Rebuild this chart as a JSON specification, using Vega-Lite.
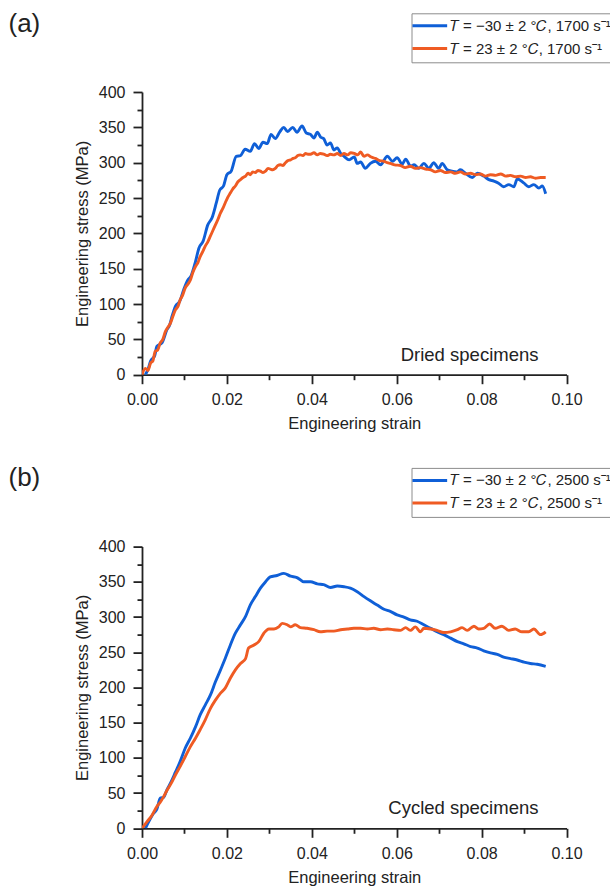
{
  "$schema": "https://vega.github.io/schema/vega-lite/v6.json",
  "padding": {"left": 8, "top": 10, "right": 0, "bottom": 0},
  "bounds": "flush",
  "spacing": 171.6,
  "datasets": {
    "dried": [
      {"T": "-30", "strain": 0.0008, "stress": 0}, {"T": "-30", "strain": 0.0015, "stress": 9}, {"T": "-30", "strain": 0.002, "stress": 19},
      {"T": "-30", "strain": 0.003, "stress": 27}, {"T": "-30", "strain": 0.0035, "stress": 40}, {"T": "-30", "strain": 0.0047, "stress": 45},
      {"T": "-30", "strain": 0.0059, "stress": 64}, {"T": "-30", "strain": 0.0065, "stress": 70}, {"T": "-30", "strain": 0.0071, "stress": 83},
      {"T": "-30", "strain": 0.0079, "stress": 97}, {"T": "-30", "strain": 0.0089, "stress": 104}, {"T": "-30", "strain": 0.0098, "stress": 120},
      {"T": "-30", "strain": 0.0108, "stress": 134}, {"T": "-30", "strain": 0.0115, "stress": 139}, {"T": "-30", "strain": 0.0126, "stress": 160},
      {"T": "-30", "strain": 0.0134, "stress": 179}, {"T": "-30", "strain": 0.0144, "stress": 189}, {"T": "-30", "strain": 0.0155, "stress": 212},
      {"T": "-30", "strain": 0.0165, "stress": 222}, {"T": "-30", "strain": 0.0175, "stress": 243}, {"T": "-30", "strain": 0.0183, "stress": 261},
      {"T": "-30", "strain": 0.0192, "stress": 267}, {"T": "-30", "strain": 0.02, "stress": 283}, {"T": "-30", "strain": 0.021, "stress": 288},
      {"T": "-30", "strain": 0.0222, "stress": 309}, {"T": "-30", "strain": 0.0232, "stress": 310}, {"T": "-30", "strain": 0.0243, "stress": 319},
      {"T": "-30", "strain": 0.0255, "stress": 316}, {"T": "-30", "strain": 0.0265, "stress": 327}, {"T": "-30", "strain": 0.0275, "stress": 320},
      {"T": "-30", "strain": 0.0285, "stress": 329}, {"T": "-30", "strain": 0.0295, "stress": 327}, {"T": "-30", "strain": 0.0304, "stress": 340},
      {"T": "-30", "strain": 0.0314, "stress": 334}, {"T": "-30", "strain": 0.0325, "stress": 344}, {"T": "-30", "strain": 0.0334, "stress": 350},
      {"T": "-30", "strain": 0.0343, "stress": 344}, {"T": "-30", "strain": 0.0355, "stress": 350}, {"T": "-30", "strain": 0.0365, "stress": 343},
      {"T": "-30", "strain": 0.0377, "stress": 352}, {"T": "-30", "strain": 0.0387, "stress": 342}, {"T": "-30", "strain": 0.0397, "stress": 340},
      {"T": "-30", "strain": 0.0405, "stress": 335}, {"T": "-30", "strain": 0.0413, "stress": 343}, {"T": "-30", "strain": 0.0421, "stress": 336},
      {"T": "-30", "strain": 0.0428, "stress": 334}, {"T": "-30", "strain": 0.0436, "stress": 325}, {"T": "-30", "strain": 0.0444, "stress": 328},
      {"T": "-30", "strain": 0.0452, "stress": 318}, {"T": "-30", "strain": 0.046, "stress": 321}, {"T": "-30", "strain": 0.0468, "stress": 313},
      {"T": "-30", "strain": 0.0476, "stress": 309}, {"T": "-30", "strain": 0.0488, "stress": 304}, {"T": "-30", "strain": 0.05, "stress": 308},
      {"T": "-30", "strain": 0.0507, "stress": 299}, {"T": "-30", "strain": 0.0515, "stress": 301}, {"T": "-30", "strain": 0.0526, "stress": 292},
      {"T": "-30", "strain": 0.0538, "stress": 299}, {"T": "-30", "strain": 0.055, "stress": 302}, {"T": "-30", "strain": 0.0562, "stress": 297},
      {"T": "-30", "strain": 0.0578, "stress": 309}, {"T": "-30", "strain": 0.059, "stress": 302}, {"T": "-30", "strain": 0.0601, "stress": 307},
      {"T": "-30", "strain": 0.0613, "stress": 298}, {"T": "-30", "strain": 0.0621, "stress": 305}, {"T": "-30", "strain": 0.0633, "stress": 295},
      {"T": "-30", "strain": 0.0641, "stress": 297}, {"T": "-30", "strain": 0.0652, "stress": 292}, {"T": "-30", "strain": 0.0664, "stress": 299},
      {"T": "-30", "strain": 0.0676, "stress": 292}, {"T": "-30", "strain": 0.0687, "stress": 300}, {"T": "-30", "strain": 0.0699, "stress": 292},
      {"T": "-30", "strain": 0.0707, "stress": 299}, {"T": "-30", "strain": 0.0719, "stress": 290}, {"T": "-30", "strain": 0.073, "stress": 288},
      {"T": "-30", "strain": 0.0742, "stress": 287}, {"T": "-30", "strain": 0.075, "stress": 290}, {"T": "-30", "strain": 0.0762, "stress": 285},
      {"T": "-30", "strain": 0.0778, "stress": 279}, {"T": "-30", "strain": 0.079, "stress": 285}, {"T": "-30", "strain": 0.0805, "stress": 281},
      {"T": "-30", "strain": 0.0817, "stress": 276}, {"T": "-30", "strain": 0.0829, "stress": 274}, {"T": "-30", "strain": 0.084, "stress": 271},
      {"T": "-30", "strain": 0.0852, "stress": 266}, {"T": "-30", "strain": 0.0864, "stress": 269}, {"T": "-30", "strain": 0.0876, "stress": 266},
      {"T": "-30", "strain": 0.0884, "stress": 277}, {"T": "-30", "strain": 0.09, "stress": 271}, {"T": "-30", "strain": 0.0911, "stress": 266},
      {"T": "-30", "strain": 0.0923, "stress": 269}, {"T": "-30", "strain": 0.0935, "stress": 264}, {"T": "-30", "strain": 0.0943, "stress": 267},
      {"T": "-30", "strain": 0.0951, "stress": 256},
      {"T": "23", "strain": 0, "stress": 0}, {"T": "23", "strain": 0.0008, "stress": 9}, {"T": "23", "strain": 0.0014, "stress": 6},
      {"T": "23", "strain": 0.002, "stress": 16}, {"T": "23", "strain": 0.0026, "stress": 20}, {"T": "23", "strain": 0.0031, "stress": 33},
      {"T": "23", "strain": 0.0037, "stress": 35}, {"T": "23", "strain": 0.0043, "stress": 45}, {"T": "23", "strain": 0.0049, "stress": 50},
      {"T": "23", "strain": 0.0055, "stress": 61}, {"T": "23", "strain": 0.0061, "stress": 67}, {"T": "23", "strain": 0.0067, "stress": 73},
      {"T": "23", "strain": 0.0073, "stress": 83}, {"T": "23", "strain": 0.0079, "stress": 92}, {"T": "23", "strain": 0.0085, "stress": 97},
      {"T": "23", "strain": 0.009, "stress": 106}, {"T": "23", "strain": 0.0096, "stress": 113}, {"T": "23", "strain": 0.0102, "stress": 123},
      {"T": "23", "strain": 0.0108, "stress": 128}, {"T": "23", "strain": 0.0114, "stress": 134}, {"T": "23", "strain": 0.012, "stress": 145},
      {"T": "23", "strain": 0.0126, "stress": 153}, {"T": "23", "strain": 0.0132, "stress": 159}, {"T": "23", "strain": 0.0137, "stress": 167},
      {"T": "23", "strain": 0.0143, "stress": 174}, {"T": "23", "strain": 0.0149, "stress": 182}, {"T": "23", "strain": 0.0155, "stress": 188},
      {"T": "23", "strain": 0.0161, "stress": 196}, {"T": "23", "strain": 0.0167, "stress": 204}, {"T": "23", "strain": 0.0173, "stress": 212},
      {"T": "23", "strain": 0.0179, "stress": 220}, {"T": "23", "strain": 0.0185, "stress": 229}, {"T": "23", "strain": 0.0191, "stress": 236},
      {"T": "23", "strain": 0.0196, "stress": 243}, {"T": "23", "strain": 0.0202, "stress": 251}, {"T": "23", "strain": 0.0208, "stress": 257},
      {"T": "23", "strain": 0.0214, "stress": 263}, {"T": "23", "strain": 0.022, "stress": 267}, {"T": "23", "strain": 0.0226, "stress": 273},
      {"T": "23", "strain": 0.0232, "stress": 276}, {"T": "23", "strain": 0.0238, "stress": 279}, {"T": "23", "strain": 0.0244, "stress": 281},
      {"T": "23", "strain": 0.025, "stress": 285}, {"T": "23", "strain": 0.0255, "stress": 283}, {"T": "23", "strain": 0.0261, "stress": 287},
      {"T": "23", "strain": 0.0267, "stress": 286}, {"T": "23", "strain": 0.0273, "stress": 289}, {"T": "23", "strain": 0.0279, "stress": 288},
      {"T": "23", "strain": 0.0285, "stress": 286}, {"T": "23", "strain": 0.0291, "stress": 288}, {"T": "23", "strain": 0.0297, "stress": 292},
      {"T": "23", "strain": 0.0302, "stress": 291}, {"T": "23", "strain": 0.0308, "stress": 290}, {"T": "23", "strain": 0.0314, "stress": 292},
      {"T": "23", "strain": 0.032, "stress": 296}, {"T": "23", "strain": 0.0326, "stress": 297}, {"T": "23", "strain": 0.0332, "stress": 296},
      {"T": "23", "strain": 0.0338, "stress": 300}, {"T": "23", "strain": 0.0344, "stress": 303}, {"T": "23", "strain": 0.035, "stress": 304},
      {"T": "23", "strain": 0.0356, "stress": 306}, {"T": "23", "strain": 0.0361, "stress": 307}, {"T": "23", "strain": 0.0367, "stress": 310},
      {"T": "23", "strain": 0.0373, "stress": 311}, {"T": "23", "strain": 0.0379, "stress": 310}, {"T": "23", "strain": 0.0385, "stress": 313},
      {"T": "23", "strain": 0.0391, "stress": 312}, {"T": "23", "strain": 0.0397, "stress": 312}, {"T": "23", "strain": 0.0405, "stress": 314},
      {"T": "23", "strain": 0.0413, "stress": 311}, {"T": "23", "strain": 0.042, "stress": 313}, {"T": "23", "strain": 0.0428, "stress": 312},
      {"T": "23", "strain": 0.0436, "stress": 310}, {"T": "23", "strain": 0.0444, "stress": 312}, {"T": "23", "strain": 0.0452, "stress": 311},
      {"T": "23", "strain": 0.046, "stress": 313}, {"T": "23", "strain": 0.0468, "stress": 310}, {"T": "23", "strain": 0.0476, "stress": 313},
      {"T": "23", "strain": 0.0484, "stress": 311}, {"T": "23", "strain": 0.0492, "stress": 314}, {"T": "23", "strain": 0.05, "stress": 313},
      {"T": "23", "strain": 0.0508, "stress": 311}, {"T": "23", "strain": 0.0515, "stress": 315}, {"T": "23", "strain": 0.0523, "stress": 309},
      {"T": "23", "strain": 0.0531, "stress": 311}, {"T": "23", "strain": 0.054, "stress": 308}, {"T": "23", "strain": 0.055, "stress": 306},
      {"T": "23", "strain": 0.056, "stress": 303}, {"T": "23", "strain": 0.057, "stress": 302}, {"T": "23", "strain": 0.0578, "stress": 300},
      {"T": "23", "strain": 0.0585, "stress": 299}, {"T": "23", "strain": 0.0595, "stress": 297}, {"T": "23", "strain": 0.0609, "stress": 296},
      {"T": "23", "strain": 0.062, "stress": 293}, {"T": "23", "strain": 0.0632, "stress": 295}, {"T": "23", "strain": 0.0644, "stress": 292},
      {"T": "23", "strain": 0.0656, "stress": 293}, {"T": "23", "strain": 0.0668, "stress": 291}, {"T": "23", "strain": 0.068, "stress": 290},
      {"T": "23", "strain": 0.0691, "stress": 287}, {"T": "23", "strain": 0.0703, "stress": 289}, {"T": "23", "strain": 0.0715, "stress": 286},
      {"T": "23", "strain": 0.0727, "stress": 287}, {"T": "23", "strain": 0.0738, "stress": 285}, {"T": "23", "strain": 0.075, "stress": 287},
      {"T": "23", "strain": 0.0762, "stress": 284}, {"T": "23", "strain": 0.0774, "stress": 285}, {"T": "23", "strain": 0.0786, "stress": 283},
      {"T": "23", "strain": 0.0797, "stress": 284}, {"T": "23", "strain": 0.0809, "stress": 281}, {"T": "23", "strain": 0.0821, "stress": 283},
      {"T": "23", "strain": 0.0833, "stress": 282}, {"T": "23", "strain": 0.0845, "stress": 284}, {"T": "23", "strain": 0.0857, "stress": 281},
      {"T": "23", "strain": 0.0868, "stress": 282}, {"T": "23", "strain": 0.088, "stress": 280}, {"T": "23", "strain": 0.0892, "stress": 281},
      {"T": "23", "strain": 0.0904, "stress": 279}, {"T": "23", "strain": 0.0915, "stress": 280}, {"T": "23", "strain": 0.0927, "stress": 278},
      {"T": "23", "strain": 0.0939, "stress": 279}, {"T": "23", "strain": 0.0951, "stress": 279}
    ],
    "cycled": [
      {"T": "-30", "strain": 0.0008, "stress": 0}, {"T": "-30", "strain": 0.0016, "stress": 9.5}, {"T": "-30", "strain": 0.0027, "stress": 21},
      {"T": "-30", "strain": 0.0035, "stress": 27}, {"T": "-30", "strain": 0.0043, "stress": 43}, {"T": "-30", "strain": 0.0051, "stress": 44},
      {"T": "-30", "strain": 0.0059, "stress": 55}, {"T": "-30", "strain": 0.0067, "stress": 64}, {"T": "-30", "strain": 0.0079, "stress": 80},
      {"T": "-30", "strain": 0.009, "stress": 95}, {"T": "-30", "strain": 0.0102, "stress": 114}, {"T": "-30", "strain": 0.0114, "stress": 128},
      {"T": "-30", "strain": 0.0126, "stress": 144}, {"T": "-30", "strain": 0.0137, "stress": 161}, {"T": "-30", "strain": 0.0149, "stress": 175},
      {"T": "-30", "strain": 0.0161, "stress": 189}, {"T": "-30", "strain": 0.0173, "stress": 208}, {"T": "-30", "strain": 0.0185, "stress": 225},
      {"T": "-30", "strain": 0.0196, "stress": 241}, {"T": "-30", "strain": 0.0208, "stress": 260}, {"T": "-30", "strain": 0.022, "stress": 277},
      {"T": "-30", "strain": 0.0232, "stress": 289}, {"T": "-30", "strain": 0.0244, "stress": 301}, {"T": "-30", "strain": 0.0255, "stress": 317},
      {"T": "-30", "strain": 0.0267, "stress": 329}, {"T": "-30", "strain": 0.0279, "stress": 341}, {"T": "-30", "strain": 0.0291, "stress": 350},
      {"T": "-30", "strain": 0.0302, "stress": 357}, {"T": "-30", "strain": 0.0318, "stress": 359}, {"T": "-30", "strain": 0.0334, "stress": 362},
      {"T": "-30", "strain": 0.035, "stress": 358}, {"T": "-30", "strain": 0.0365, "stress": 356}, {"T": "-30", "strain": 0.0373, "stress": 353},
      {"T": "-30", "strain": 0.0381, "stress": 350}, {"T": "-30", "strain": 0.0397, "stress": 350}, {"T": "-30", "strain": 0.0413, "stress": 347},
      {"T": "-30", "strain": 0.0428, "stress": 346}, {"T": "-30", "strain": 0.0444, "stress": 342}, {"T": "-30", "strain": 0.046, "stress": 344},
      {"T": "-30", "strain": 0.0476, "stress": 343}, {"T": "-30", "strain": 0.0491, "stress": 341}, {"T": "-30", "strain": 0.0507, "stress": 336},
      {"T": "-30", "strain": 0.0523, "stress": 329}, {"T": "-30", "strain": 0.0538, "stress": 323}, {"T": "-30", "strain": 0.0554, "stress": 317},
      {"T": "-30", "strain": 0.057, "stress": 311}, {"T": "-30", "strain": 0.0585, "stress": 308}, {"T": "-30", "strain": 0.0601, "stress": 303},
      {"T": "-30", "strain": 0.0617, "stress": 300}, {"T": "-30", "strain": 0.0632, "stress": 296}, {"T": "-30", "strain": 0.0648, "stress": 294},
      {"T": "-30", "strain": 0.0664, "stress": 289}, {"T": "-30", "strain": 0.068, "stress": 284}, {"T": "-30", "strain": 0.0695, "stress": 279},
      {"T": "-30", "strain": 0.0711, "stress": 275}, {"T": "-30", "strain": 0.0727, "stress": 270}, {"T": "-30", "strain": 0.0743, "stress": 265},
      {"T": "-30", "strain": 0.0758, "stress": 262}, {"T": "-30", "strain": 0.0774, "stress": 258}, {"T": "-30", "strain": 0.079, "stress": 256},
      {"T": "-30", "strain": 0.0805, "stress": 252}, {"T": "-30", "strain": 0.0821, "stress": 249}, {"T": "-30", "strain": 0.0837, "stress": 247},
      {"T": "-30", "strain": 0.0852, "stress": 243}, {"T": "-30", "strain": 0.0868, "stress": 241}, {"T": "-30", "strain": 0.0884, "stress": 239},
      {"T": "-30", "strain": 0.09, "stress": 236}, {"T": "-30", "strain": 0.0915, "stress": 234}, {"T": "-30", "strain": 0.0931, "stress": 233},
      {"T": "-30", "strain": 0.0951, "stress": 230},
      {"T": "23", "strain": 0, "stress": 0}, {"T": "23", "strain": 0.0012, "stress": 9.5}, {"T": "23", "strain": 0.0024, "stress": 19},
      {"T": "23", "strain": 0.0035, "stress": 31}, {"T": "23", "strain": 0.0043, "stress": 37}, {"T": "23", "strain": 0.0051, "stress": 45},
      {"T": "23", "strain": 0.0059, "stress": 54}, {"T": "23", "strain": 0.0067, "stress": 62}, {"T": "23", "strain": 0.0079, "stress": 76},
      {"T": "23", "strain": 0.009, "stress": 88}, {"T": "23", "strain": 0.0102, "stress": 102}, {"T": "23", "strain": 0.0114, "stress": 116},
      {"T": "23", "strain": 0.0126, "stress": 128}, {"T": "23", "strain": 0.0137, "stress": 140}, {"T": "23", "strain": 0.0149, "stress": 154},
      {"T": "23", "strain": 0.0161, "stress": 170}, {"T": "23", "strain": 0.0173, "stress": 182}, {"T": "23", "strain": 0.0185, "stress": 192},
      {"T": "23", "strain": 0.0196, "stress": 199}, {"T": "23", "strain": 0.0208, "stress": 213}, {"T": "23", "strain": 0.022, "stress": 225},
      {"T": "23", "strain": 0.0232, "stress": 234}, {"T": "23", "strain": 0.0244, "stress": 241}, {"T": "23", "strain": 0.0251, "stress": 256},
      {"T": "23", "strain": 0.0263, "stress": 260}, {"T": "23", "strain": 0.0275, "stress": 265}, {"T": "23", "strain": 0.0287, "stress": 277},
      {"T": "23", "strain": 0.0299, "stress": 283}, {"T": "23", "strain": 0.0311, "stress": 283}, {"T": "23", "strain": 0.0322, "stress": 286},
      {"T": "23", "strain": 0.033, "stress": 291}, {"T": "23", "strain": 0.0342, "stress": 289}, {"T": "23", "strain": 0.035, "stress": 286},
      {"T": "23", "strain": 0.0361, "stress": 289}, {"T": "23", "strain": 0.0373, "stress": 285}, {"T": "23", "strain": 0.0389, "stress": 284},
      {"T": "23", "strain": 0.0405, "stress": 282}, {"T": "23", "strain": 0.042, "stress": 279}, {"T": "23", "strain": 0.0436, "stress": 280},
      {"T": "23", "strain": 0.0452, "stress": 280}, {"T": "23", "strain": 0.0468, "stress": 282}, {"T": "23", "strain": 0.0484, "stress": 283},
      {"T": "23", "strain": 0.0499, "stress": 284}, {"T": "23", "strain": 0.0515, "stress": 284}, {"T": "23", "strain": 0.0531, "stress": 283},
      {"T": "23", "strain": 0.0546, "stress": 284}, {"T": "23", "strain": 0.0562, "stress": 282}, {"T": "23", "strain": 0.0578, "stress": 283},
      {"T": "23", "strain": 0.0593, "stress": 282}, {"T": "23", "strain": 0.0609, "stress": 281}, {"T": "23", "strain": 0.0621, "stress": 285},
      {"T": "23", "strain": 0.0632, "stress": 281}, {"T": "23", "strain": 0.0644, "stress": 286}, {"T": "23", "strain": 0.0656, "stress": 279},
      {"T": "23", "strain": 0.0664, "stress": 284}, {"T": "23", "strain": 0.068, "stress": 283}, {"T": "23", "strain": 0.0695, "stress": 281},
      {"T": "23", "strain": 0.0711, "stress": 278}, {"T": "23", "strain": 0.0727, "stress": 279}, {"T": "23", "strain": 0.0743, "stress": 282},
      {"T": "23", "strain": 0.0754, "stress": 285}, {"T": "23", "strain": 0.0766, "stress": 281}, {"T": "23", "strain": 0.0782, "stress": 287},
      {"T": "23", "strain": 0.0793, "stress": 283}, {"T": "23", "strain": 0.0805, "stress": 284}, {"T": "23", "strain": 0.0819, "stress": 290},
      {"T": "23", "strain": 0.0832, "stress": 284}, {"T": "23", "strain": 0.0848, "stress": 287}, {"T": "23", "strain": 0.0864, "stress": 281},
      {"T": "23", "strain": 0.0879, "stress": 283}, {"T": "23", "strain": 0.0895, "stress": 279}, {"T": "23", "strain": 0.0911, "stress": 279},
      {"T": "23", "strain": 0.0923, "stress": 283}, {"T": "23", "strain": 0.0939, "stress": 275}, {"T": "23", "strain": 0.0951, "stress": 279}
    ]
  },
  "vconcat": [
    {
      "title": "(a)",
      "width": 424.5,
      "height": 282.7,
      "layer": [
        {
          "data": {"name": "dried"},
          "mark": {"type": "line", "strokeWidth": 2.9, "clip": true, "interpolate": "monotone"},
          "encoding": {
            "x": {"field": "strain", "type": "quantitative", "scale": {"domain": [0, 0.1], "nice": false},
                  "axis": {"values": [0, 0.02, 0.04, 0.06, 0.08, 0.1], "format": ".2f", "title": "Engineering strain", "orient": "bottom"}},
            "y": {"field": "stress", "type": "quantitative", "scale": {"domain": [0, 400], "nice": false},
                  "axis": {"values": [0, 50, 100, 150, 200, 250, 300, 350, 400], "title": "Engineering stress (MPa)", "orient": "left"}},
            "color": {"field": "T", "type": "nominal", "scale": {"domain": ["-30", "23"], "range": ["#0f5fd7", "#ef5b23"]},
                      "legend": {"labelExpr": "datum.label === '-30' ? '𝑇 = −30 ± 2 °𝐶, 1700 s⁻¹' : '𝑇 = 23 ± 2 °𝐶, 1700 s⁻¹'"}}
          }
        },
        {
          "data": {"values": [{"note": "Dried specimens"}]},
          "mark": {"type": "text", "align": "right", "baseline": "alphabetic", "fontSize": 18.5, "color": "#222"},
          "encoding": {
            "x": {"datum": 0.0934, "type": "quantitative",
                  "axis": {"values": [0.01, 0.03, 0.05, 0.07, 0.09], "labels": false, "domain": false, "tickSize": 5, "title": null, "orient": "bottom"}},
            "y": {"datum": 20, "type": "quantitative",
                  "axis": {"values": [25, 75, 125, 175, 225, 275, 325, 375], "labels": false, "domain": false, "tickSize": 5, "title": null, "orient": "left"}},
            "text": {"field": "note"}
          }
        }
      ],
      "resolve": {"axis": {"x": "independent", "y": "independent"}}
    },
    {
      "title": "(b)",
      "width": 424.5,
      "height": 281.7,
      "layer": [
        {
          "data": {"name": "cycled"},
          "mark": {"type": "line", "strokeWidth": 2.9, "clip": true, "interpolate": "monotone"},
          "encoding": {
            "x": {"field": "strain", "type": "quantitative", "scale": {"domain": [0, 0.1], "nice": false},
                  "axis": {"values": [0, 0.02, 0.04, 0.06, 0.08, 0.1], "format": ".2f", "title": "Engineering strain", "orient": "bottom"}},
            "y": {"field": "stress", "type": "quantitative", "scale": {"domain": [0, 400], "nice": false},
                  "axis": {"values": [0, 50, 100, 150, 200, 250, 300, 350, 400], "title": "Engineering stress (MPa)", "orient": "left"}},
            "color": {"field": "T", "type": "nominal", "scale": {"domain": ["-30", "23"], "range": ["#0f5fd7", "#ef5b23"]},
                      "legend": {"labelExpr": "datum.label === '-30' ? '𝑇 = −30 ± 2 °𝐶, 2500 s⁻¹' : '𝑇 = 23 ± 2 °𝐶, 2500 s⁻¹'"}}
          }
        },
        {
          "data": {"values": [{"note": "Cycled specimens"}]},
          "mark": {"type": "text", "align": "right", "baseline": "alphabetic", "fontSize": 18.5, "color": "#222"},
          "encoding": {
            "x": {"datum": 0.0934, "type": "quantitative",
                  "axis": {"values": [0.01, 0.03, 0.05, 0.07, 0.09], "labels": false, "domain": false, "tickSize": 5, "title": null, "orient": "bottom"}},
            "y": {"datum": 20, "type": "quantitative",
                  "axis": {"values": [25, 75, 125, 175, 225, 275, 325, 375], "labels": false, "domain": false, "tickSize": 5, "title": null, "orient": "left"}},
            "text": {"field": "note"}
          }
        }
      ],
      "resolve": {"axis": {"x": "independent", "y": "independent"}}
    }
  ],
  "resolve": {"scale": {"color": "independent"}, "legend": {"color": "independent"}},
  "config": {
    "font": "Liberation Sans",
    "view": {"stroke": null},
    "axis": {
      "grid": false,
      "domainColor": "#222", "domainWidth": 1.8,
      "tickColor": "#222", "tickWidth": 1.8, "tickSize": 9,
      "labelFontSize": 16, "labelColor": "#222", "labelPadding": 8, "labelFlush": false, "labelOverlap": false,
      "titleFontSize": 16.5, "titleFontWeight": "normal", "titleColor": "#222", "titlePadding": 8
    },
    "legend": {
      "orient": "none", "legendX": 269.5, "legendY": -78.7,
      "title": null,
      "symbolType": "M-3.47,0H3.47", "symbolSize": 100, "symbolStrokeWidth": 3,
      "symbolOffset": 5.8, "labelOffset": 12.5,
      "labelFontSize": 15, "labelColor": "#222", "labelLimit": 0,
      "rowPadding": 6.7, "padding": 5,
      "strokeColor": "#8c8c8c", "fillColor": "white"
    },
    "title": {
      "anchor": "start", "frame": "group", "fontSize": 26, "fontWeight": "normal",
      "color": "#222", "dx": -133.5, "offset": -24
    }
  }
}
